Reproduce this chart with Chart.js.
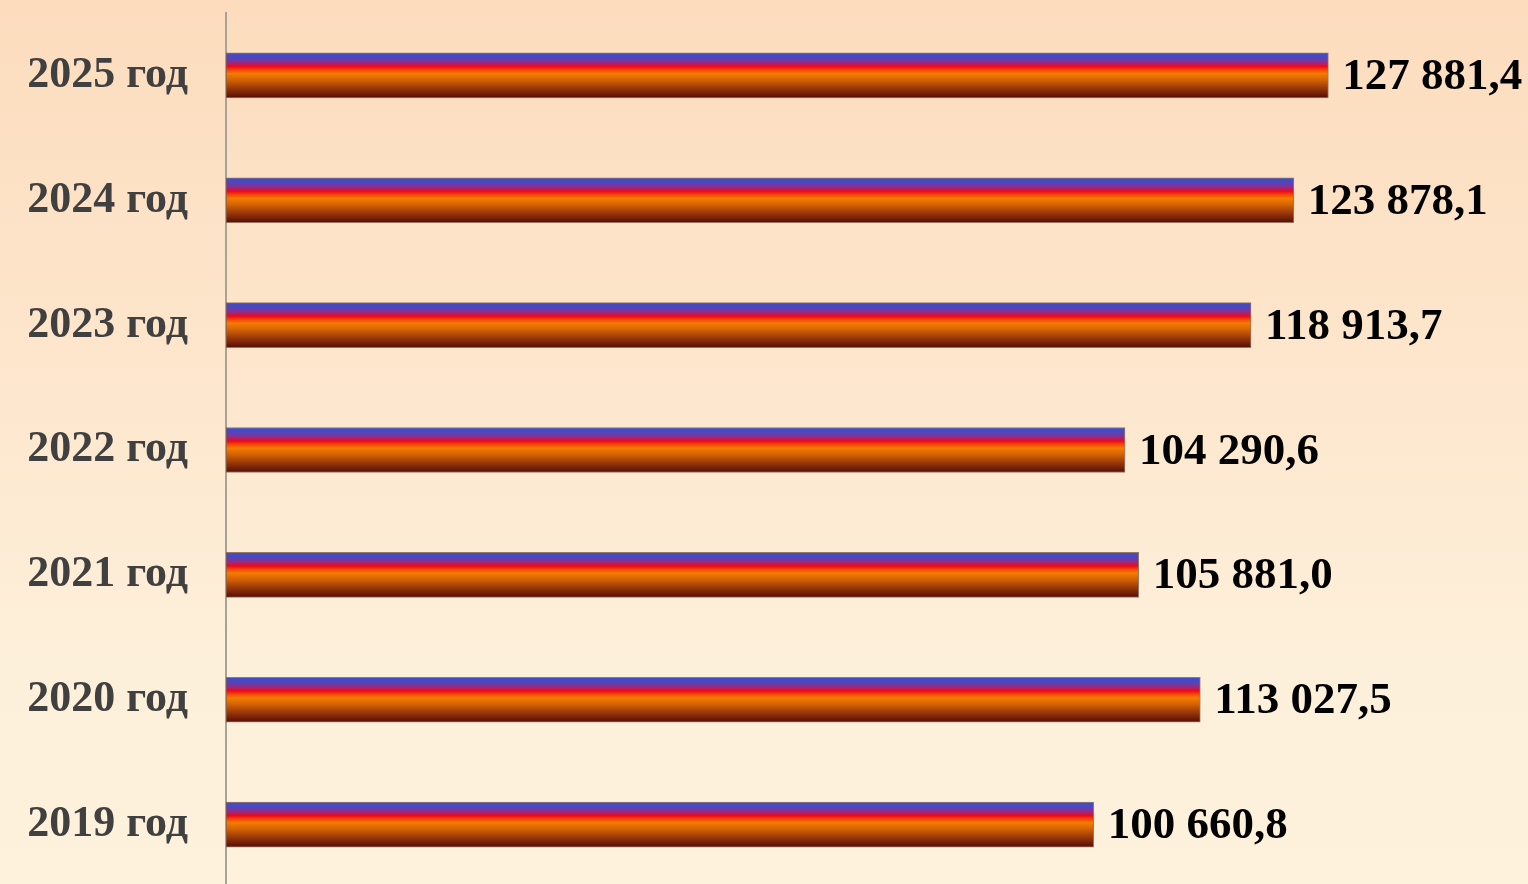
<!DOCTYPE html>
<html><head><meta charset="utf-8">
<script src="https://cdn.jsdelivr.net/npm/chart.js@4/dist/chart.umd.min.js"></script>
<style>
html,body{margin:0;padding:0;width:1528px;height:884px;overflow:hidden;}
body{background:linear-gradient(180deg,#fcdcbd 0%,#fde6cc 40%,#fdf0da 75%,#fdf2dc 100%);}
#wrap{position:absolute;left:0;top:0;width:1528px;height:887px;}
</style></head>
<body><div id="wrap"><canvas id="c" width="1528" height="887"></canvas></div>
<script>
const categories = ['2019 год','2020 год','2021 год','2022 год','2023 год','2024 год','2025 год'];
const values = [100660.8, 113027.5, 105881.0, 104290.6, 118913.7, 123878.1, 127881.4];
const valueLabels = ['100 660,8','113 027,5','105 881,0','104 290,6','118 913,7','123 878,1','127 881,4'];

const BAR_T = 45;
function barFill(ctx){
  const chart = ctx.chart;
  const ys = chart.scales && chart.scales.y;
  if (!ys || !chart.chartArea) return '#e07000';
  const yc = ys.getPixelForValue(ctx.dataIndex);
  const g = chart.ctx.createLinearGradient(0, yc - BAR_T/2, 0, yc + BAR_T/2);
  g.addColorStop(0.00, '#3a4fcc');
  g.addColorStop(0.10, '#4b47c0');
  g.addColorStop(0.20, '#8a3090');
  g.addColorStop(0.30, '#f0081a');
  g.addColorStop(0.38, '#f34a08');
  g.addColorStop(0.46, '#f47c00');
  g.addColorStop(0.60, '#d46204');
  g.addColorStop(0.80, '#93350a');
  g.addColorStop(1.00, '#560c06');
  return g;
}

const valueLabelPlugin = {
  id: 'valueLabels',
  afterDatasetsDraw(chart){
    const c = chart.ctx;
    const meta = chart.getDatasetMeta(0);
    c.save();
    c.font = 'bold 45px "Liberation Serif", "Times New Roman", serif';
    c.fillStyle = '#000000';
    c.textAlign = 'left';
    c.textBaseline = 'middle';
    meta.data.forEach((bar, i) => {
      c.fillText(valueLabels[i], bar.x + 14, bar.y + 2);
    });
    c.restore();
  }
};

new Chart(document.getElementById('c'), {
  type: 'bar',
  data: {
    labels: categories,
    datasets: [{
      data: values,
      backgroundColor: barFill,
      borderColor: 'rgba(110,70,50,0.7)',
      borderWidth: 1,
      borderSkipped: false,
      barThickness: BAR_T
    }]
  },
  options: {
    indexAxis: 'y',
    responsive: false,
    animation: false,
    layout: { padding: { top: 13, right: 9, bottom: 0, left: 0 } },
    plugins: { legend: { display: false }, tooltip: { enabled: false } },
    scales: {
      x: { display: false, min: 0, max: 150000 },
      y: {
        reverse: true,
        afterFit(scale){ scale.paddingTop = 0; scale.paddingBottom = 0; scale.width = 226; },
        grid: { display: false, drawTicks: false },
        border: { display: true, color: '#a8a29a', width: 2 },
        ticks: {
          color: '#404040',
          padding: 38,
          font: { family: '"Liberation Serif", "Times New Roman", serif', size: 44, weight: 'bold' }
        }
      }
    }
  },
  plugins: [valueLabelPlugin]
});
</script></body></html>
